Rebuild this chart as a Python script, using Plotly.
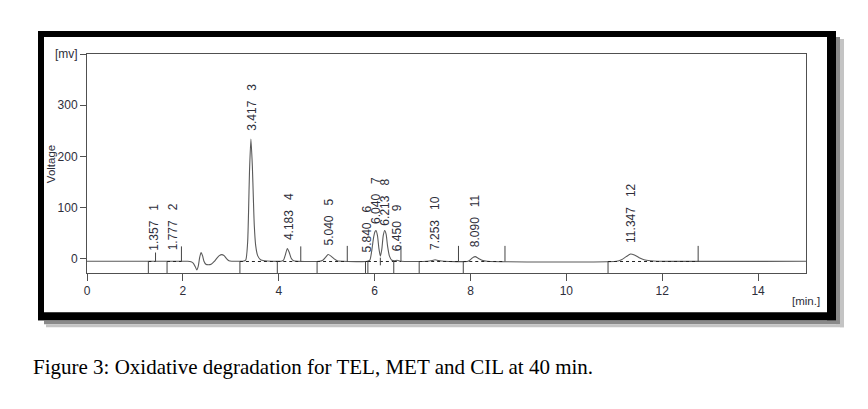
import plotly.graph_objects as go

# ---------------- data ----------------
# chromatogram signal (time in min, signal in mV)
sig_t = [0, 1.0, 2.0, 2.1, 2.17, 2.22, 2.26, 2.29, 2.32, 2.35, 2.38, 2.41, 2.44, 2.48,
         2.53, 2.59, 2.65, 2.71, 2.76, 2.81, 2.86, 2.91, 2.96, 3.02, 3.1, 3.25, 3.31,
         3.35, 3.37, 3.39, 3.42, 3.45, 3.47, 3.49, 3.52, 3.56, 3.62, 3.70, 3.85, 4.05,
         4.10, 4.14, 4.18, 4.22, 4.26, 4.31, 4.40, 4.85, 4.92, 4.98, 5.03, 5.09, 5.15,
         5.22, 5.35, 5.85, 5.90, 5.94, 5.98, 6.01, 6.03, 6.06, 6.09, 6.12, 6.15, 6.18,
         6.21, 6.24, 6.27, 6.31, 6.36, 6.42, 6.47, 6.55, 7.10, 7.20, 7.26, 7.33, 7.45,
         7.95, 8.01, 8.06, 8.10, 8.16, 8.24, 8.35, 11.05, 11.15, 11.25, 11.34, 11.42,
         11.52, 11.62, 11.75, 11.9, 15]
sig_mv = [-5, -5, -5, -5, -6, -9, -16, -22, -15, 2, 12, 6, -5, -11,
          -12, -11, -6, 1, 6, 8, 6, 0, -4, -5, -5, -5, -3,
          30, 90, 170, 234, 180, 120, 65, 25, 6, -2, -4, -5, -5,
          -3, 8, 20, 12, 1, -4, -5, -5, -3, 3, 8, 5, 0,
          -4, -5, -5, -3, 15, 42, 53, 55, 45, 20, 5, 18, 45,
          55, 48, 25, 5, -3, -4, -3, -5, -5, -3.5, -2, -3.5, -5,
          -5, -1, 3, 4, 1, -3, -5, -5, -2, 4, 9, 7,
          2, -2, -4, -5, -5]

# peak table
peak_no = [1, 2, 3, 4, 5, 6, 7, 8, 9, 10, 11, 12]
peak_rt = [1.357, 1.777, 3.417, 4.183, 5.040, 5.840, 6.040, 6.213, 6.450, 7.253, 8.090, 11.347]
peak_rt_text = ["1.357", "1.777", "3.417", "4.183", "5.040", "5.840", "6.040", "6.213",
                "6.450", "7.253", "8.090", "11.347"]
label_x = [1.39, 1.80, 3.44, 4.20, 5.04, 5.84, 6.03, 6.21, 6.46, 7.26, 8.10, 11.35]
label_y = [12, 12, 247, 32, 22, 9, 63, 61, 11, 13, 18, 26]

# integration baselines (start, end)
base_start = [1.28, 1.67, 3.19, 3.97, 4.80, 5.81, 5.86, 6.40, 6.93, 7.85, 10.87]
base_end = [1.43, 1.97, 3.97, 4.46, 5.43, 5.86, 6.40, 6.55, 7.75, 8.72, 12.75]
base_level = -5.5
# peak start markers (drop below baseline)
start_marks = [1.28, 1.67, 3.19, 3.97, 4.80, 5.81, 5.86, 6.40, 6.93, 7.85, 10.87]
# peak end markers (rise above baseline) and their tops
end_marks = [1.43, 1.97, 4.46, 5.43, 6.55, 7.75, 8.72, 12.75]
end_tops = [12, 24, 24, 25, 25, 25, 25, 25]
# drop line between peaks 7 and 8
split_marks = [6.12]

x_ticks = [0, 2, 4, 6, 8, 10, 12, 14]
y_ticks = [0, 100, 200, 300, 400]
y_ticktext = ["0", "100", "200", "300", "[mv]"]
x_range = [0, 15]
y_range = [-28, 400]

caption = "Figure 3: Oxidative degradation for TEL, MET and CIL at 40 min."

# ---------------- layout geometry ----------------
W, H = 868, 409
PL, PR, PT, PB = 87, 806, 54, 272.7


def px(xp):
    return (xp - PL) / (PR - PL)


def py(yp):
    return (PB - yp) / (PB - PT)


LINE = "#505050"
TXT = "#2e2e3a"
FONT = "Liberation Sans"

fig = go.Figure()

# signal
fig.add_trace(go.Scatter(x=sig_t, y=sig_mv, mode="lines",
                         line=dict(color="#5a5a5a", width=1.1, shape="spline", smoothing=0.6),
                         hoverinfo="skip", showlegend=False))

# dashed integration baselines
bx, by = [], []
for s, e in zip(base_start, base_end):
    bx += [s, e, None]
    by += [base_level, base_level, None]
fig.add_trace(go.Scatter(x=bx, y=by, mode="lines",
                         line=dict(color="#222222", width=1, dash="3px,3px"),
                         hoverinfo="skip", showlegend=False))

# start / end / split markers
mx, my = [], []
for s in start_marks:
    mx += [s, s, None]
    my += [base_level, y_range[0], None]
for e, t in zip(end_marks, end_tops):
    mx += [e, e, None]
    my += [base_level, t, None]
for s in split_marks:
    mx += [s, s, None]
    my += [2, -13, None]
fig.add_trace(go.Scatter(x=mx, y=my, mode="lines",
                         line=dict(color="#444444", width=1),
                         hoverinfo="skip", showlegend=False))

# peak labels
for n, rt, lx, ly in zip(peak_no, peak_rt_text, label_x, label_y):
    fig.add_annotation(x=lx, y=ly, xref="x", yref="y",
                       text=rt + "\u00a0\u00a0\u00a0" + str(n), textangle=-90,
                       showarrow=False, xanchor="center", yanchor="bottom",
                       font=dict(family=FONT, size=12, color=TXT))

# frame (black border with shadow)
def rect(x0, y0, x1, y1, color):
    fig.add_shape(type="rect", xref="paper", yref="paper",
                  x0=px(x0), x1=px(x1), y0=py(y1), y1=py(y0),
                  fillcolor=color, line=dict(width=0), layer="above")

rect(836, 37, 840, 324, "#8a8a8a")
rect(840, 39, 844, 327, "#c4c4c4")
rect(44, 320, 840, 324, "#8a8a8a")
rect(46, 324, 844, 327, "#c4c4c4")
rect(38, 31, 836, 37, "#000000")
rect(38, 31, 44, 320, "#000000")
rect(827, 31, 836, 320, "#000000")
rect(38, 312, 836, 320, "#000000")

# axis texts
fig.add_annotation(x=px(51), y=py(164), xref="paper", yref="paper", text="Voltage",
                   textangle=-90, showarrow=False, xanchor="center", yanchor="middle",
                   font=dict(family=FONT, size=11.5, color=TXT))
fig.add_annotation(x=px(806), y=py(301), xref="paper", yref="paper", text="[min.]",
                   showarrow=False, xanchor="center", yanchor="middle",
                   font=dict(family=FONT, size=11.5, color=TXT))
fig.add_annotation(x=px(313), y=py(367), xref="paper", yref="paper", text=caption,
                   showarrow=False, xanchor="center", yanchor="middle",
                   font=dict(family="Liberation Serif", size=21, color="#000000"))

fig.update_xaxes(range=x_range, tickvals=x_ticks, ticks="outside", ticklen=7,
                 tickcolor=LINE, showline=True, linecolor=LINE, linewidth=1, mirror=True,
                 showgrid=False, zeroline=False,
                 tickfont=dict(family=FONT, size=12, color=TXT))
fig.update_yaxes(range=y_range, tickvals=y_ticks, ticktext=y_ticktext, ticks="outside",
                 ticklen=6, tickcolor=LINE, showline=True, linecolor=LINE, linewidth=1,
                 mirror=True, showgrid=False, zeroline=False,
                 tickfont=dict(family=FONT, size=12, color=TXT))

fig.update_layout(width=W, height=H, paper_bgcolor="white", plot_bgcolor="white",
                  margin=dict(l=PL, r=W - PR, t=PT, b=H - PB, pad=0),
                  showlegend=False)

fig.write_html("out.html")
